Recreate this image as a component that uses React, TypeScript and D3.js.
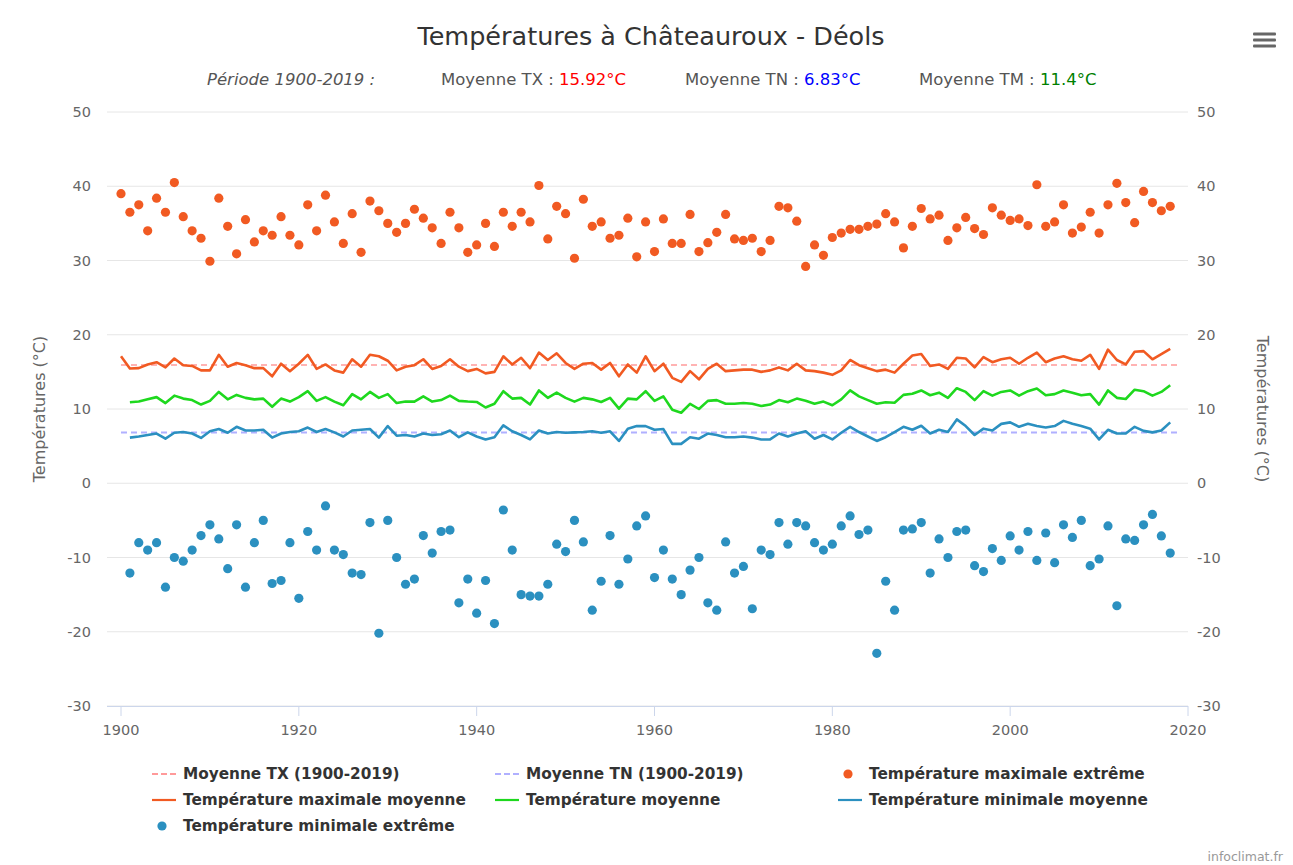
import React from "react";
import * as d3 from "d3";

const W = 1293;
const H = 865;

const txExtYears = d3.range(1900, 2019);
const txExt = [
  39.0, 36.5, 37.5, 34.0, 38.4, 36.5, 40.5, 35.9, 34.0, 33.0,
  29.9, 38.4, 34.6, 30.9, 35.5, 32.5, 34.0, 33.4, 35.9, 33.4,
  32.1, 37.5, 34.0, 38.8, 35.2, 32.3, 36.3, 31.1, 38.0, 36.7,
  35.0, 33.8, 35.0, 36.9, 35.7, 34.4, 32.3, 36.5, 34.4, 31.1,
  32.1, 35.0, 31.9, 36.5, 34.6, 36.5, 35.2, 40.1, 32.9, 37.3,
  36.3, 30.3, 38.25, 34.6, 35.2, 33.0, 33.4, 35.7, 30.5, 35.2,
  31.2, 35.6, 32.3, 32.3, 36.2, 31.2, 32.4, 33.8, 36.2, 32.9,
  32.7, 33.0, 31.2, 32.7, 37.3, 37.1, 35.3, 29.2, 32.1, 30.7,
  33.1, 33.7, 34.2, 34.2, 34.6, 34.9, 36.3, 35.2, 31.7, 34.6,
  37.0, 35.6, 36.1, 32.7, 34.4, 35.8, 34.3, 33.5, 37.1, 36.1,
  35.4, 35.6, 34.7, 40.2, 34.6, 35.2, 37.5, 33.7, 34.5, 36.5,
  33.7, 37.5, 40.4, 37.8, 35.1, 39.3, 37.8, 36.7, 37.3,
];

const tnExtYears = d3.range(1901, 2019);
const tnExt = [
  -12.1, -8.0, -9.0, -8.0, -14.0, -10.0, -10.5, -9.0, -7.05,
  -5.6, -7.5, -11.5, -5.6, -14.0, -8.0, -5.0, -13.5, -13.1, -8.0,
  -15.5, -6.5, -9.0, -3.05, -9.0, -9.6, -12.1, -12.3, -5.3, -20.2,
  -5.0, -10.0, -13.6, -12.9, -7.05, -9.4, -6.5, -6.3, -16.1, -12.9,
  -17.5, -13.1, -18.9, -3.6, -9.0, -15.0, -15.2, -15.2, -13.6, -8.2,
  -9.2, -5.0, -7.9, -17.1, -13.2, -7.05, -13.6, -10.2, -5.75, -4.4,
  -12.7, -9.0, -12.9, -15.0, -11.7, -10.0, -16.1, -17.1, -7.9, -12.1,
  -11.2, -16.9, -9.0, -9.6, -5.3, -8.2, -5.3, -5.75, -8.0, -9.0,
  -8.2, -5.75, -4.4, -6.9, -6.3, -22.9, -13.2, -17.1, -6.3, -6.15,
  -5.3, -12.1, -7.5, -10.0, -6.5, -6.3, -11.1, -11.9, -8.8, -10.4,
  -7.1, -9.0, -6.5, -10.4, -6.7, -10.7, -5.6, -7.3, -5.0, -11.1,
  -10.2, -5.75, -16.5, -7.5, -7.7, -5.6, -4.2, -7.1, -9.4,
];

const txMeanYears = d3.range(1900, 2019);
const txMean = [
  17.1, 15.45, 15.5, 16.0, 16.3, 15.6, 16.8, 15.9, 15.8, 15.2,
  15.2, 17.3, 15.7, 16.2, 15.9, 15.5, 15.5, 14.4, 16.1, 15.1,
  16.1, 17.3, 15.4, 16.0, 15.2, 14.9, 16.7, 15.7, 17.3, 17.1,
  16.5, 15.2, 15.7, 15.9, 16.7, 15.4, 15.8, 16.7, 15.7, 15.1,
  15.4, 14.8, 15.0, 17.1, 16.0, 16.9, 15.5, 17.6, 16.6, 17.5,
  16.2, 15.4, 16.1, 16.2, 15.3, 16.2, 14.4, 16.0, 14.9, 17.1,
  15.1, 16.1, 14.2, 13.65, 15.1, 14.0, 15.4, 16.1, 15.1, 15.2,
  15.3, 15.3, 15.0, 15.2, 15.6, 15.2, 16.1, 15.2, 15.1, 14.9,
  14.6, 15.2, 16.6, 15.9, 15.5, 15.1, 15.3, 14.9, 16.1, 17.2,
  17.4, 15.8, 16.0, 15.4, 16.9, 16.8, 15.6, 17.0, 16.3, 16.7,
  16.9, 16.1, 16.9, 17.6, 16.3, 16.8, 17.1, 16.7, 16.5, 17.3,
  15.4, 18.0, 16.6, 16.0, 17.7, 17.8, 16.7, 17.4, 18.1,
];

const tmMeanYears = d3.range(1901, 2019);
const tmMean = [
  10.9, 11.0, 11.3, 11.6, 10.8, 11.8, 11.4, 11.2, 10.6,
  11.1, 12.3, 11.3, 11.9, 11.5, 11.3, 11.4, 10.3, 11.4, 11.0,
  11.6, 12.4, 11.1, 11.6, 11.0, 10.5, 12.0, 11.3, 12.3, 11.5,
  12.0, 10.8, 11.0, 11.0, 11.7, 11.0, 11.2, 11.8, 11.1, 11.0,
  10.95, 10.2, 10.7, 12.4, 11.4, 11.5, 10.6, 12.5, 11.5, 12.2,
  11.5, 11.0, 11.5, 11.3, 10.95, 11.5, 10.05, 11.4, 11.3, 12.4,
  11.1, 11.7, 9.9, 9.5, 10.7, 10.0, 11.1, 11.2, 10.7, 10.7,
  10.8, 10.7, 10.4, 10.6, 11.2, 10.9, 11.4, 11.1, 10.7, 11.0,
  10.5, 11.3, 12.5, 11.7, 11.2, 10.7, 10.9, 10.85, 11.9, 12.05,
  12.5, 11.85, 12.2, 11.5, 12.8, 12.3, 11.2, 12.4, 11.8, 12.3,
  12.5, 11.8, 12.4, 12.75, 11.85, 12.0, 12.5, 12.2, 11.85, 12.0,
  10.6, 12.5, 11.5, 11.35, 12.6, 12.4, 11.8, 12.3, 13.2,
];

const tnMeanYears = d3.range(1901, 2019);
const tnMean = [
  6.15, 6.3, 6.5, 6.7, 6.0, 6.8, 6.9, 6.7, 6.1,
  7.0, 7.3, 6.8, 7.6, 7.1, 7.1, 7.2, 6.15, 6.7, 6.9,
  7.0, 7.5, 6.9, 7.3, 6.85, 6.3, 7.1, 7.2, 7.3, 6.15,
  7.7, 6.4, 6.5, 6.3, 6.7, 6.5, 6.6, 7.1, 6.2, 6.85,
  6.3, 5.9, 6.2, 7.8, 7.0, 6.5, 5.9, 7.1, 6.7, 6.9,
  6.8, 6.85, 6.9, 7.0, 6.8, 7.0, 5.7, 7.35, 7.7, 7.7,
  7.2, 7.3, 5.3, 5.3, 6.2, 6.0, 6.7, 6.5, 6.2, 6.2,
  6.3, 6.15, 5.9, 5.9, 6.7, 6.3, 6.7, 7.0, 6.0, 6.5,
  5.9, 6.8, 7.6, 6.9, 6.3, 5.7, 6.2, 6.9, 7.6, 7.2,
  7.75, 6.7, 7.2, 6.9, 8.6, 7.7, 6.5, 7.35, 7.1, 8.0,
  8.2, 7.6, 8.0, 7.7, 7.5, 7.7, 8.4, 8.0, 7.7, 7.35,
  5.9, 7.2, 6.7, 6.7, 7.6, 7.05, 6.85, 7.1, 8.2,
];

const avgTX = 15.92;
const avgTN = 6.83;
const avgTM = 11.4;
const avgSpan = [1900, 2019];

const yTicks = [-30, -20, -10, 0, 10, 20, 30, 40, 50];
const xTicks = [1900, 1920, 1940, 1960, 1980, 2000, 2020];

const C_TX = "#f15a22";
const C_TM = "#1ed81e";
const C_TN = "#2b90c0";
const C_AVG_TX = "#ff9a9a";
const C_AVG_TN = "#b0b0ff";

const FONT = "'DejaVu Sans', sans-serif";

export default function App() {
  const plotL = 107;
  const plotR = 1188;
  const x = d3.scaleLinear().domain([1900, 2020]).range([121, 1188]);
  const y = d3.scaleLinear().domain([-30, 50]).range([706, 112]);

  const line = d3
    .line<[number, number]>()
    .x((d) => x(d[0]))
    .y((d) => y(d[1]));

  const zip = (ys: number[], vs: number[]) =>
    ys.map((yr, i) => [yr, vs[i]] as [number, number]);

  const legendRows = [
    [
      { label: "Moyenne TX (1900-2019)", kind: "dash", color: C_AVG_TX },
      { label: "Moyenne TN (1900-2019)", kind: "dash", color: C_AVG_TN },
      { label: "Température maximale extrême", kind: "dot", color: C_TX },
    ],
    [
      { label: "Température maximale moyenne", kind: "line", color: C_TX },
      { label: "Température moyenne", kind: "line", color: C_TM },
      { label: "Température minimale moyenne", kind: "line", color: C_TN },
    ],
    [{ label: "Température minimale extrême", kind: "dot", color: C_TN }],
  ];
  const legendCols = [152, 495, 838];
  const legendY = [774, 800, 826];

  return (
    <svg
      width={W}
      height={H}
      style={{ position: "absolute", left: 0, top: 0, background: "#fff" }}
      fontFamily={FONT}
    >
      <rect x={0} y={0} width={W} height={H} fill="#fff" />
      {/* title */}
      <text x={651} y={45} textAnchor="middle" fontSize={25.5} fill="#333">
        Températures à Châteauroux - Déols
      </text>
      {/* subtitle */}
      <text y={85} fontSize={16.5} fill="#555">
        <tspan x={207} fontStyle="italic">Période 1900-2019 :</tspan>
        <tspan x={441}>Moyenne TX : </tspan>
        <tspan fill="#ff0000">{avgTX}°C</tspan>
        <tspan x={685}>Moyenne TN : </tspan>
        <tspan fill="#0000ff">{avgTN}°C</tspan>
        <tspan x={919}>Moyenne TM : </tspan>
        <tspan fill="#008000">{avgTM}°C</tspan>
      </text>
      {/* menu icon */}
      {[34, 40, 46].map((yy) => (
        <rect key={yy} x={1253} y={yy - 1.5} width={23} height={3} fill="#666" rx={1} />
      ))}

      {/* grid */}
      {yTicks.map((t) => (
        <line
          key={t}
          x1={plotL}
          x2={plotR}
          y1={y(t)}
          y2={y(t)}
          stroke="#e6e6e6"
          strokeWidth={1}
        />
      ))}
      {/* y labels */}
      {yTicks.map((t) => (
        <g key={"yl" + t} fontSize={14.5} fill="#666">
          <text x={91} y={y(t) + 5} textAnchor="end">
            {t}
          </text>
          <text x={1197} y={y(t) + 5} textAnchor="start">
            {t}
          </text>
        </g>
      ))}
      {/* axis titles */}
      <text
        transform={`translate(45,${y(10)}) rotate(-90)`}
        textAnchor="middle"
        fontSize={16}
        fill="#666"
      >
        Températures (°C)
      </text>
      <text
        transform={`translate(1257,${y(10)}) rotate(90)`}
        textAnchor="middle"
        fontSize={16}
        fill="#666"
      >
        Températures (°C)
      </text>
      {/* x axis */}
      <line x1={plotL} x2={plotR} y1={706.5} y2={706.5} stroke="#ccd6eb" />
      {xTicks.map((t) => (
        <g key={"xt" + t}>
          <line x1={x(t)} x2={x(t)} y1={706} y2={716} stroke="#ccd6eb" />
          <text x={x(t)} y={735} textAnchor="middle" fontSize={14.5} fill="#666">
            {t}
          </text>
        </g>
      ))}

      {/* average lines */}
      <line
        x1={x(avgSpan[0])}
        x2={x(avgSpan[1])}
        y1={y(avgTX)}
        y2={y(avgTX)}
        stroke={C_AVG_TX}
        strokeWidth={1.5}
        strokeDasharray="6,4"
      />
      <line
        x1={x(avgSpan[0])}
        x2={x(avgSpan[1])}
        y1={y(avgTN)}
        y2={y(avgTN)}
        stroke={C_AVG_TN}
        strokeWidth={2}
        strokeDasharray="6,4"
      />

      {/* mean lines */}
      <path d={line(zip(txMeanYears, txMean)) || ""} fill="none" stroke={C_TX} strokeWidth={2.6} strokeLinejoin="round" />
      <path d={line(zip(tmMeanYears, tmMean)) || ""} fill="none" stroke={C_TM} strokeWidth={2.6} strokeLinejoin="round" />
      <path d={line(zip(tnMeanYears, tnMean)) || ""} fill="none" stroke={C_TN} strokeWidth={2.6} strokeLinejoin="round" />

      {/* extreme dots */}
      {txExt.map((v, i) => (
        <circle key={"tx" + i} cx={x(txExtYears[i])} cy={y(v)} r={4.6} fill={C_TX} />
      ))}
      {tnExt.map((v, i) => (
        <circle key={"tn" + i} cx={x(tnExtYears[i])} cy={y(v)} r={4.6} fill={C_TN} />
      ))}

      {/* legend */}
      {legendRows.map((row, ri) =>
        row.map((it, ci) => {
          const lx = legendCols[ci];
          const ly = legendY[ri];
          return (
            <g key={`lg${ri}-${ci}`}>
              {it.kind === "dot" ? (
                <circle cx={lx + 10} cy={ly} r={4.6} fill={it.color} />
              ) : (
                <line
                  x1={lx}
                  x2={lx + 24}
                  y1={ly}
                  y2={ly}
                  stroke={it.color}
                  strokeWidth={2.2}
                  strokeDasharray={it.kind === "dash" ? "6,3" : undefined}
                />
              )}
              <text x={lx + 31} y={ly + 5} fontSize={15.3} fontWeight="bold" fill="#333">
                {it.label}
              </text>
            </g>
          );
        })
      )}

      {/* credits */}
      <text x={1283} y={861} textAnchor="end" fontSize={12.5} fill="#999">
        infoclimat.fr
      </text>
    </svg>
  );
}
